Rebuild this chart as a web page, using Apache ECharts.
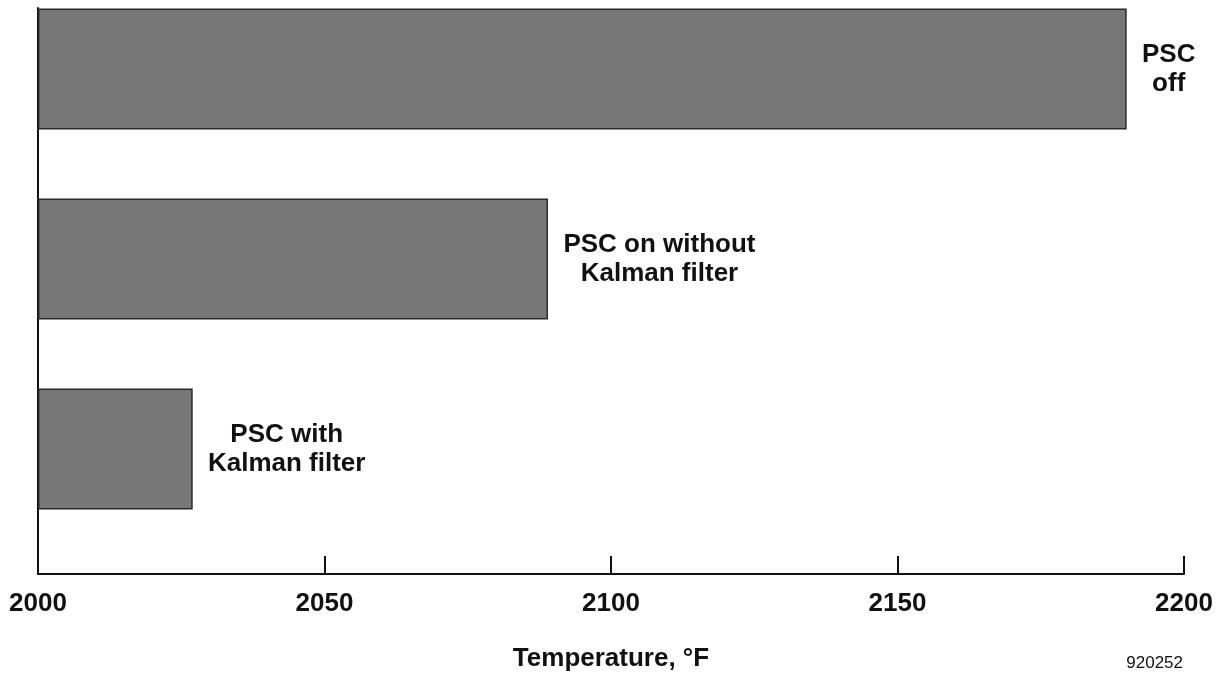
<!DOCTYPE html>
<html>
<head>
<meta charset="utf-8">
<script src="https://cdn.jsdelivr.net/npm/echarts@6/dist/echarts.min.js"></script>
<style>
html,body{margin:0;padding:0;background:#fff;}
#chart{width:1225px;height:673px;}
</style>
</head>
<body>
<div id="chart"></div>
<script>
// ---- data ----
const categories = ['PSC off', 'PSC on without Kalman filter', 'PSC with Kalman filter'];
const barLabels = ['PSC\noff', 'PSC on without\nKalman filter', 'PSC with\nKalman filter'];
const temperatures = [2190, 2089, 2027];
const xMin = 2000, xMax = 2200, xStep = 50;
const xTitle = 'Temperature, \u00b0F';
const figureId = '920252';

// ---- styling ----
const FONT = '"Liberation Sans", Arial, Helvetica, sans-serif';
const labelFontSize = 26;

function measure(text) {
  const c = document.createElement('canvas').getContext('2d');
  c.font = 'bold ' + labelFontSize + 'px ' + FONT;
  return Math.max.apply(null, text.split('\n').map(l => c.measureText(l).width));
}

const barData = temperatures.map((v, i) => ({
  value: v,
  label: { rich: { c: { width: Math.ceil(measure(barLabels[i])) + 2 } } }
}));

const chart = echarts.init(document.getElementById('chart'), null, { renderer: 'canvas' });
chart.setOption({
  animation: false,
  backgroundColor: '#ffffff',
  title: {
    text: figureId,
    right: 37, bottom: -4,
    textStyle: { fontFamily: FONT, fontSize: 17, fontWeight: 'normal', color: '#111' }
  },
  grid: [
    { left: 38, right: 41, top: 8, bottom: 99, containLabel: false, outerBoundsMode: 'none' },
    { left: 38, right: 41, top: 69, bottom: 224, containLabel: false, outerBoundsMode: 'none' }
  ],
  xAxis: [
    {
      gridIndex: 0, type: 'value', min: xMin, max: xMax, interval: xStep,
      name: xTitle, nameLocation: 'middle', nameGap: 72,
      nameTextStyle: { fontFamily: FONT, fontSize: 26, fontWeight: 'bold', color: '#111' },
      axisLine: { show: true, lineStyle: { color: '#111', width: 2 } },
      axisTick: { show: true, inside: true, length: 18, lineStyle: { color: '#111', width: 2 } },
      axisLabel: { margin: 17, formatter: v => String(v), fontFamily: FONT, fontSize: 26, fontWeight: 'bold', color: '#111' },
      splitLine: { show: false }
    },
    {
      gridIndex: 1, type: 'value', min: xMin, max: xMax, interval: xStep, startValue: xMin, show: false
    }
  ],
  yAxis: [
    {
      gridIndex: 0, type: 'value', min: 0, max: 1,
      axisLine: { show: true, lineStyle: { color: '#111', width: 2 } },
      axisTick: { show: false }, axisLabel: { show: false }, splitLine: { show: false }
    },
    {
      gridIndex: 1, type: 'category', data: categories, inverse: true, boundaryGap: false, show: false
    }
  ],
  series: [{
    type: 'bar',
    xAxisIndex: 1, yAxisIndex: 1,
    data: barData,
    barWidth: 121,
    clip: false,
    itemStyle: { color: '#777777', borderColor: '#2a2a2a', borderWidth: 1.5 },
    label: {
      show: true,
      position: 'right',
      distance: 14,
      formatter: p => barLabels[p.dataIndex].split('\n').map(l => '{c|' + l + '}').join('\n'),
      rich: {
        c: { align: 'center', fontFamily: FONT, fontSize: labelFontSize, fontWeight: 'bold', color: '#111', lineHeight: 29 }
      }
    }
  }]
});
</script>
</body>
</html>
